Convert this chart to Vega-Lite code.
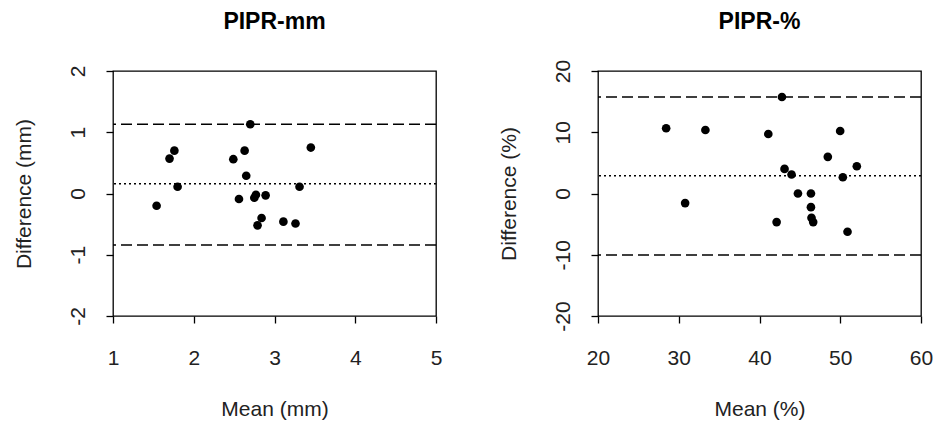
{
  "$schema": "https://vega.github.io/schema/vega-lite/v6.json",
  "background": "white",
  "padding": {"left": 12, "top": 10, "right": 0, "bottom": 5},
  "spacing": 162,
  "bounds": "flush",
  "config": {
    "font": "Liberation Sans",
    "view": {"stroke": "black", "strokeWidth": 1.3},
    "axis": {
      "grid": false, "domain": false, "ticks": true, "tickColor": "black", "tickSize": 7, "tickWidth": 1.3,
      "labelFontSize": 21, "labelColor": "#222", "titleFontSize": 21, "titleFontWeight": "normal", "titleColor": "#222",
      "labelFlush": false, "labelOverlap": false, "labelExpr": "'' + datum.value"
    },
    "axisX": {"labelPadding": 24, "titlePadding": 30},
    "axisY": {"labelAngle": 270, "labelAlign": "center", "labelBaseline": "bottom", "labelPadding": 18, "titlePadding": 33},
    "title": {"fontSize": 23, "fontWeight": "bold", "color": "black", "frame": "group"}
  },
  "datasets": {
    "mm": [
      {"mean": 1.54, "diff": -0.20}, {"mean": 1.70, "diff": 0.57}, {"mean": 1.76, "diff": 0.70},
      {"mean": 1.80, "diff": 0.11}, {"mean": 2.49, "diff": 0.56}, {"mean": 2.56, "diff": -0.09},
      {"mean": 2.63, "diff": 0.70}, {"mean": 2.65, "diff": 0.29}, {"mean": 2.70, "diff": 1.13},
      {"mean": 2.75, "diff": -0.07}, {"mean": 2.77, "diff": -0.02}, {"mean": 2.79, "diff": -0.52},
      {"mean": 2.84, "diff": -0.40}, {"mean": 2.89, "diff": -0.03}, {"mean": 3.11, "diff": -0.46},
      {"mean": 3.26, "diff": -0.49}, {"mean": 3.31, "diff": 0.11}, {"mean": 3.45, "diff": 0.75}
    ],
    "mmLines": [
      {"y": 1.13, "kind": "limit"}, {"y": 0.16, "kind": "mean"}, {"y": -0.84, "kind": "limit"}
    ],
    "pct": [
      {"mean": 28.44, "diff": 10.65}, {"mean": 30.79, "diff": -1.57}, {"mean": 33.30, "diff": 10.37},
      {"mean": 41.09, "diff": 9.72}, {"mean": 42.12, "diff": -4.67}, {"mean": 42.78, "diff": 15.75},
      {"mean": 43.10, "diff": 4.02}, {"mean": 43.97, "diff": 3.10}, {"mean": 44.76, "diff": 0.0},
      {"mean": 46.37, "diff": 0.0}, {"mean": 46.37, "diff": -2.23}, {"mean": 46.44, "diff": -3.97},
      {"mean": 46.65, "diff": -4.67}, {"mean": 48.46, "diff": 5.98}, {"mean": 49.99, "diff": 10.21},
      {"mean": 50.32, "diff": 2.66}, {"mean": 50.90, "diff": -6.24}, {"mean": 52.05, "diff": 4.45}
    ],
    "pctLines": [
      {"y": 15.75, "kind": "limit"}, {"y": 2.88, "kind": "mean"}, {"y": -10.04, "kind": "limit"}
    ]
  },
  "hconcat": [
    {
      "width": 323, "height": 245,
      "title": {"text": "PIPR-mm", "offset": 31},
      "layer": [
        {
          "data": {"name": "mmLines"},
          "transform": [{"filter": "datum.kind == 'limit'"}],
          "mark": {"type": "rule", "color": "black", "strokeWidth": 1.5, "strokeDash": [11, 5]},
          "encoding": {"y": {"field": "y", "type": "quantitative", "scale": {"domain": [-2, 2], "nice": false, "zero": false}}}
        },
        {
          "data": {"name": "mmLines"},
          "transform": [{"filter": "datum.kind == 'mean'"}],
          "mark": {"type": "rule", "color": "black", "strokeWidth": 1.5, "strokeDash": [2, 3]},
          "encoding": {"y": {"field": "y", "type": "quantitative"}}
        },
        {
          "data": {"name": "mm"},
          "mark": {"type": "point", "filled": true, "color": "black", "size": 75, "opacity": 1},
          "encoding": {
            "x": {"field": "mean", "type": "quantitative", "title": "Mean (mm)",
                  "scale": {"domain": [1, 5], "nice": false, "zero": false},
                  "axis": {"values": [1, 2, 3, 4, 5]}},
            "y": {"field": "diff", "type": "quantitative", "title": "Difference (mm)",
                  "scale": {"domain": [-2, 2], "nice": false, "zero": false},
                  "axis": {"values": [-2, -1, 0, 1, 2]}}
          }
        }
      ]
    },
    {
      "width": 323, "height": 245,
      "title": {"text": "PIPR-%", "offset": 25},
      "layer": [
        {
          "data": {"name": "pctLines"},
          "transform": [{"filter": "datum.kind == 'limit'"}],
          "mark": {"type": "rule", "color": "black", "strokeWidth": 1.5, "strokeDash": [11, 5]},
          "encoding": {"y": {"field": "y", "type": "quantitative", "scale": {"domain": [-20, 20], "nice": false, "zero": false}}}
        },
        {
          "data": {"name": "pctLines"},
          "transform": [{"filter": "datum.kind == 'mean'"}],
          "mark": {"type": "rule", "color": "black", "strokeWidth": 1.5, "strokeDash": [2, 3]},
          "encoding": {"y": {"field": "y", "type": "quantitative"}}
        },
        {
          "data": {"name": "pct"},
          "mark": {"type": "point", "filled": true, "color": "black", "size": 75, "opacity": 1},
          "encoding": {
            "x": {"field": "mean", "type": "quantitative", "title": "Mean (%)",
                  "scale": {"domain": [20, 60], "nice": false, "zero": false},
                  "axis": {"values": [20, 30, 40, 50, 60]}},
            "y": {"field": "diff", "type": "quantitative", "title": "Difference (%)",
                  "scale": {"domain": [-20, 20], "nice": false, "zero": false},
                  "axis": {"values": [-20, -10, 0, 10, 20]}}
          }
        }
      ]
    }
  ]
}
